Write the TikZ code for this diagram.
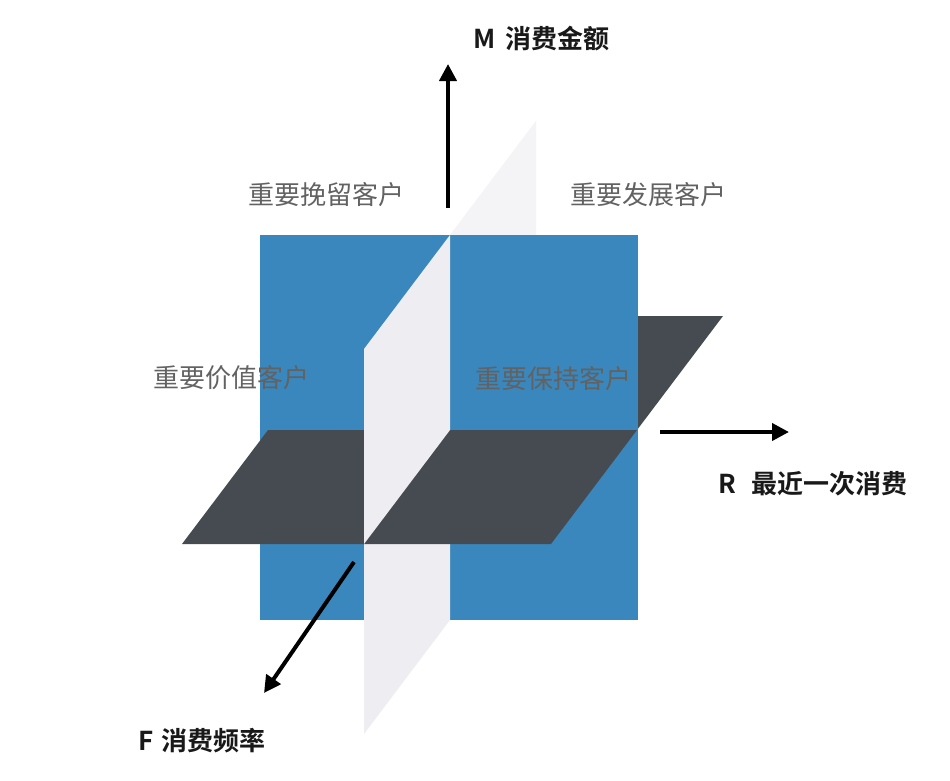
\documentclass[tikz,border=0pt]{standalone}
\usepackage{fontspec}
\usetikzlibrary{arrows.meta}
\newfontfamily\cjk{Noto Sans CJK SC}
\newfontfamily\cjkb{Noto Sans CJK SC Bold}
\definecolor{bluec}{HTML}{3A87BD}
\definecolor{darkc}{HTML}{464B51}
\definecolor{lightc}{HTML}{EEEEF2}
\definecolor{lightback}{HTML}{F4F4F6}
\definecolor{qgray}{HTML}{626262}
\tikzset{
  axis/.style={line width=4pt, black, -{Triangle[length=17pt,width=17pt]}},
  axlabel/.style={inner sep=0pt, anchor=west, font=\cjkb\fontsize{26}{30}\selectfont, text=black!90},
  qlabel/.style={inner sep=0pt, font=\cjk\fontsize{26}{30}\selectfont, text=qgray}
}
\begin{document}
\begin{tikzpicture}[x=1pt,y=-1pt]
\useasboundingbox (0,0) rectangle (950,780);
\fill[white] (0,0) rectangle (950,780);
% light plane, back half (behind blue)
\fill[lightback] (450,235) -- (536,121) -- (536,506) -- (450,620) -- cycle;
% dark plane, back half
\fill[darkc] (268,430) -- (637,430) -- (723,316) -- (354,316) -- cycle;
% blue plane
\fill[bluec] (260,235) rectangle (638,620);
% light plane, lower front quarter
\fill[lightc] (364,544) -- (450,430) -- (450,620) -- (364,734) -- cycle;
% dark plane, front half
\fill[darkc] (268,430) -- (637,430) -- (551,544) -- (182,544) -- cycle;
% light plane, upper front quarter
\fill[lightc] (364,349) -- (450,235) -- (450,430) -- (364,544) -- cycle;
% axes
\coordinate (mS) at (448,208);
\coordinate (mE) at (448,64);
\coordinate (rS) at (660,432);
\coordinate (rE) at (789,432);
\coordinate (fS) at (354,562);
\coordinate (fE) at (264,693);
\draw[axis] (mS) -- (mE);
\draw[axis] (rS) -- (rE);
\draw[axis] (fS) -- (fE);
% axis labels
\node[axlabel] (mlab) at (473,39) {M\hspace{0.4em}消费金额};
\node[axlabel] (rlab) at (718,484) {R\hspace{0.6em}最近一次消费};
\node[axlabel] (flab) at (138,741) {F\hspace{0.3em}消费频率};
% quadrant labels
\node[qlabel] (q1) at (326,195) {重要挽留客户};
\node[qlabel] (q2) at (648,195) {重要发展客户};
\node[qlabel] (q3) at (231,378) {重要价值客户};
\node[qlabel] (q4) at (553,379) {重要保持客户};
\end{tikzpicture}
\end{document}
